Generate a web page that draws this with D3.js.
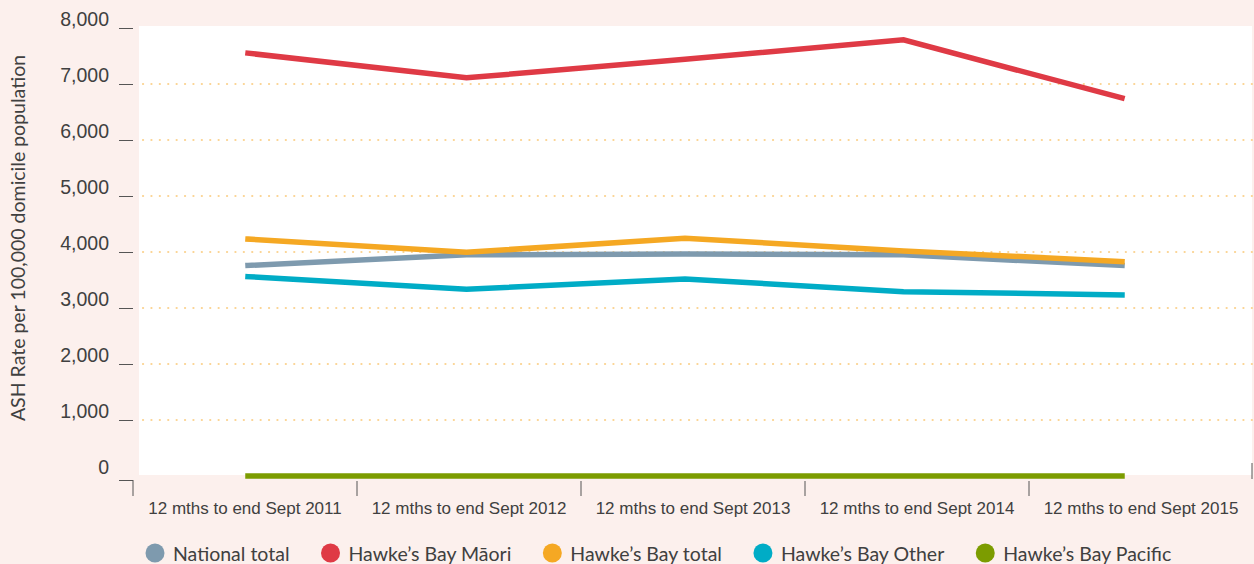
<!DOCTYPE html>
<html>
<head>
<meta charset="utf-8">
<script src="https://cdn.jsdelivr.net/npm/d3@7"></script>
<style>
  body { margin: 0; background: #fcf0ed; }
  svg { display: block; font-family: Lato, sans-serif; }
</style>
</head>
<body>
<div class="chart"></div>
<script>
const categories = [
  "12 mths to end Sept 2011",
  "12 mths to end Sept 2012",
  "12 mths to end Sept 2013",
  "12 mths to end Sept 2014",
  "12 mths to end Sept 2015"
];
const nationalTotal = [3760, 3950, 3965, 3950, 3760];
const hbMaori = [7550, 7110, 7440, 7790, 6750];
const hbTotal = [4230, 3995, 4245, 4020, 3830];
const hbOther = [3560, 3335, 3520, 3290, 3235];
const hbPacific = [0, 0, 0, 0, 0];
const yTicks = [0, 1000, 2000, 3000, 4000, 5000, 6000, 7000, 8000];

const series = [
  { name: "National total", values: nationalTotal, color: "#7e9aae" },
  { name: "Hawke\u2019s Bay M\u0101ori", values: hbMaori, color: "#df3a45" },
  { name: "Hawke\u2019s Bay total", values: hbTotal, color: "#f5a823" },
  { name: "Hawke\u2019s Bay Other", values: hbOther, color: "#00acc6" },
  { name: "Hawke\u2019s Bay Pacific", values: hbPacific, color: "#7c9c00" }
];

const width = 1254;
const height = 564;
const svg = d3
  .select(".chart")
  .append("svg")
  .attr("width", width)
  .attr("height", height);

const y = d3.scaleLinear().domain([0, 8000]).range([476, 28]);
const xBand = d3.scaleBand().domain(categories).range([133, 1253]);
const x = d3.scalePoint().domain(categories).range([248, 1122]);

// white plot area
svg
  .append("rect")
  .attr("x", 139)
  .attr("y", 26)
  .attr("width", 1113)
  .attr("height", 449)
  .attr("fill", "#ffffff");

// dotted gridlines
svg
  .selectAll("line.grid")
  .data(yTicks.filter((d) => d > 0 && d < 8000))
  .enter()
  .append("line")
  .attr("class", "grid")
  .attr("x1", 143)
  .attr("x2", 1252)
  .attr("y1", (d) => y(d))
  .attr("y2", (d) => y(d))
  .attr("stroke", "#fbd391")
  .attr("stroke-width", 2.2)
  .attr("stroke-linecap", "round")
  .attr("stroke-dasharray", "0.1 8.3");

// y axis
const yAxis = svg
  .append("g")
  .attr("transform", "translate(133,0)")
  .call(d3.axisLeft(y).tickValues(yTicks).tickSize(14).tickPadding(10).tickFormat(d3.format(",")));
yAxis.select(".domain").remove();
yAxis.selectAll(".tick line").attr("stroke", "#555");
yAxis
  .selectAll(".tick text")
  .attr("fill", "#404040")
  .attr("font-size", 19.5)
  .attr("dy", "-0.12em");
yAxis
  .selectAll(".tick")
  .filter((d) => d === 0)
  .select("line")
  .attr("transform", "translate(0,4)");
svg
  .append("line")
  .attr("x1", 133)
  .attr("x2", 133)
  .attr("y1", y(0) + 4)
  .attr("y2", y(0) + 20)
  .attr("stroke", "#555");

// x axis labels
const xAxis = svg
  .append("g")
  .attr("transform", "translate(0,480)")
  .call(d3.axisBottom(xBand).tickSize(0).tickPadding(22));
xAxis.select(".domain").remove();
xAxis
  .selectAll(".tick text")
  .attr("fill", "#404040")
  .attr("font-size", 17);

// x axis separators
svg
  .selectAll("line.sep")
  .data(categories.slice(1))
  .enter()
  .append("line")
  .attr("class", "sep")
  .attr("x1", (d) => xBand(d))
  .attr("x2", (d) => xBand(d))
  .attr("y1", 481)
  .attr("y2", 496)
  .attr("stroke", "#555");
svg
  .append("line")
  .attr("x1", xBand.range()[1] - 1)
  .attr("x2", xBand.range()[1] - 1)
  .attr("y1", 463)
  .attr("y2", 479)
  .attr("stroke", "#555");

// y axis title
svg
  .append("text")
  .attr("transform", "translate(25,238) rotate(-90)")
  .attr("text-anchor", "middle")
  .attr("fill", "#404040")
  .attr("font-size", 19.5)
  .text("ASH Rate per 100,000 domicile population");

// lines
const line = d3
  .line()
  .x((d, i) => x(categories[i]))
  .y((d) => y(d));

svg
  .selectAll("path.series")
  .data(series)
  .enter()
  .append("path")
  .attr("class", "series")
  .attr("d", (d) => line(d.values))
  .attr("fill", "none")
  .attr("stroke", (d) => d.color)
  .attr("stroke-width", 5.5)
  .attr("stroke-linecap", "square")
  .attr("stroke-linejoin", "miter");

// legend
const legend = svg.append("g").attr("transform", "translate(0,553)");
let lx = 155;
series.forEach((s) => {
  const item = legend.append("g").attr("transform", "translate(" + lx + ",0)");
  item.append("circle").attr("r", 9.5).attr("fill", s.color);
  const t = item
    .append("text")
    .attr("x", 18)
    .attr("y", 8)
    .attr("fill", "#404040")
    .attr("font-size", 19.5)
    .text(s.name);
  lx += 18 + t.node().getComputedTextLength() + 41;
});
</script>
</body>
</html>
